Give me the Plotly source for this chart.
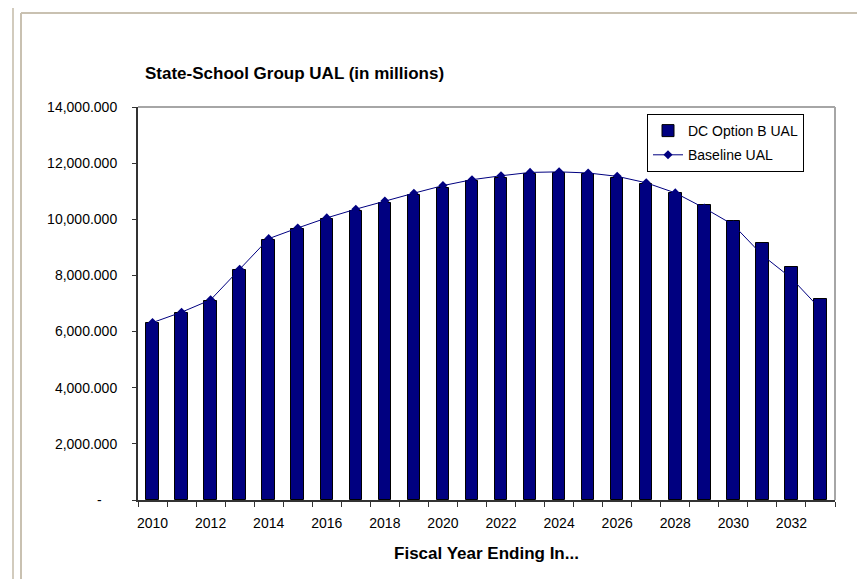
import plotly.graph_objects as go

years = list(range(2010, 2034))
dc_option_b_ual = [6290, 6650, 7100, 8180, 9270, 9640, 10000, 10300, 10590, 10870, 11130, 11360,
                   11480, 11620, 11660, 11600, 11480, 11270, 10950, 10510, 9940, 9170, 8300, 7160]
baseline_ual = [6320, 6690, 7130, 8220, 9310, 9690, 10050, 10360, 10650, 10930, 11200, 11410,
                11550, 11670, 11690, 11650, 11530, 11300, 10940, 10400, 9800, 8720, 7900, 6800]
x_tick_vals = list(range(2010, 2034, 2))
y_tick_vals = [0, 2000, 4000, 6000, 8000, 10000, 12000, 14000]
y_tick_text = ["-\u00a0\u00a0\u00a0\u00a0", "2,000.000", "4,000.000", "6,000.000", "8,000.000",
               "10,000.000", "12,000.000", "14,000.000"]

NAVY = "#000080"
FONT = "Arial, Liberation Sans, sans-serif"

fig = go.Figure()
fig.add_trace(go.Bar(x=years, y=dc_option_b_ual, name="DC Option B UAL", width=0.43,
                     legendgroup="a",
                     marker=dict(color=NAVY, line=dict(color="black", width=1))))
fig.add_trace(go.Scatter(x=years, y=baseline_ual, name="Baseline UAL", mode="lines+markers",
                         legendgroup="b",
                         line=dict(color=NAVY, width=1),
                         marker=dict(symbol="diamond", size=7, color=NAVY)))

L, R, T, B = 130, 38, 99, 87
W, H = 865, 579
pw, ph = W - L - R, H - T - B
def px(x):
    return (x - L) / pw
def py(y):
    return (H - B - y) / ph

shapes = [
    dict(type="line", xref="paper", yref="paper", x0=0, x1=1, y0=1, y1=1,
         line=dict(color="#a6a6a6", width=2)),
    dict(type="line", xref="paper", yref="paper", x0=1, x1=1, y0=0, y1=1,
         line=dict(color="#a6a6a6", width=2)),
    dict(type="line", xref="paper", yref="paper", x0=px(5), x1=px(5), y0=py(0), y1=py(579),
         line=dict(color="#d2cbbd", width=2)),
    dict(type="line", xref="paper", yref="paper", x0=px(13), x1=px(13), y0=py(5), y1=py(579),
         line=dict(color="#c9c1b1", width=2)),
    dict(type="line", xref="paper", yref="paper", x0=px(13), x1=px(865), y0=py(5), y1=py(5),
         line=dict(color="#c9c1b1", width=2)),
]

fig.update_layout(
    width=W, height=H,
    margin=dict(l=L, r=R, t=T, b=B, pad=0),
    paper_bgcolor="white", plot_bgcolor="white",
    font=dict(family=FONT, size=14, color="black"),
    title=dict(text="<b>State-School Group UAL (in millions)</b>", font=dict(size=17, family=FONT),
               xref="paper", x=px(137), xanchor="left",
               yref="container", y=1 - 65 / H, yanchor="middle"),
    showlegend=True,
    legend=dict(x=px(639), y=py(106), xanchor="left", yanchor="top",
                bgcolor="white", bordercolor="black", borderwidth=1,
                font=dict(size=14, family=FONT), traceorder="grouped", tracegroupgap=3),
    shapes=shapes,
    bargap=0,
)
fig.update_xaxes(range=[2009.5, 2033.5], tickvals=x_tick_vals, ticktext=[str(v) for v in x_tick_vals],
                 ticks="", showgrid=False, zeroline=False,
                 showline=True, linecolor="#333333", linewidth=2,
                 tickfont=dict(size=14), ticklabelstandoff=9,
                 minor=dict(tick0=2009.5, dtick=1, ticks="outside", ticklen=5, tickcolor="#333333",
                            tickwidth=1, showgrid=False),
                 title=dict(text="<b>Fiscal Year Ending In...</b>", font=dict(size=17), standoff=17))
fig.update_yaxes(range=[0, 14000], tickvals=y_tick_vals, ticktext=y_tick_text,
                 ticks="outside", ticklen=4, tickcolor="#333333", showgrid=False, zeroline=False,
                 showline=True, linecolor="#333333", linewidth=2,
                 tickfont=dict(size=14), ticklabelstandoff=12)

fig.write_html("out.html")
